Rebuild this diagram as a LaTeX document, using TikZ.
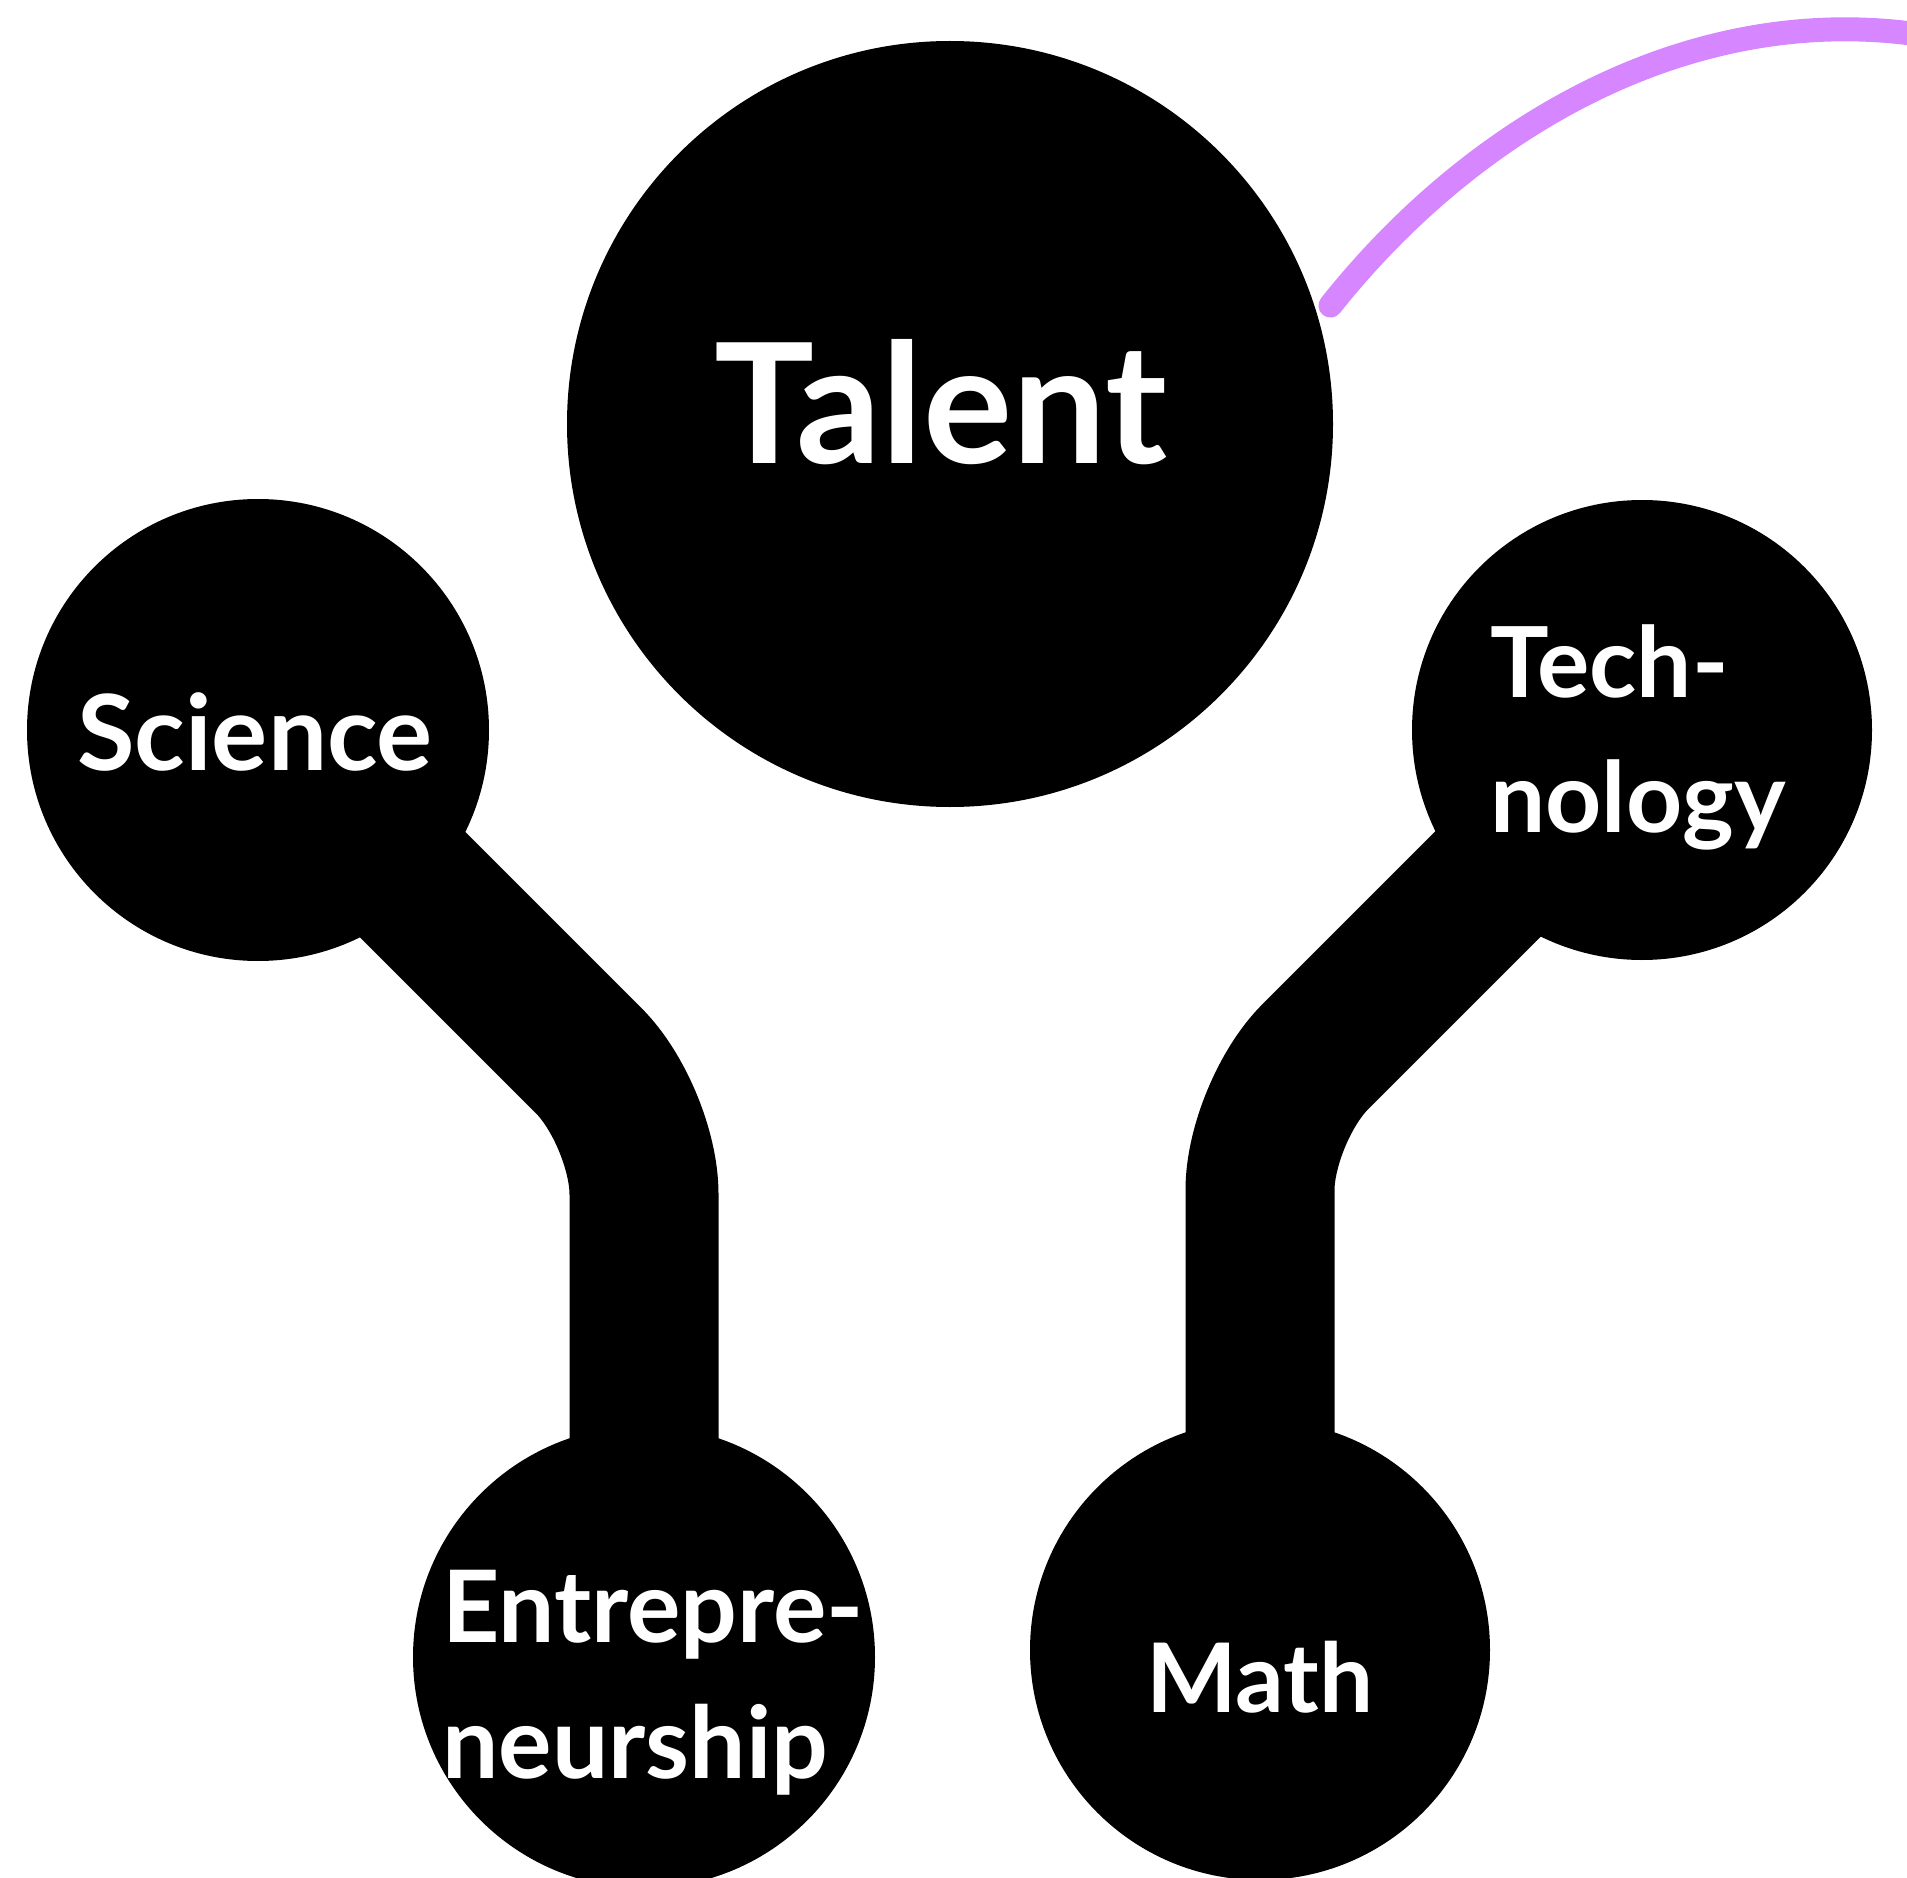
\documentclass[tikz,border=0pt]{standalone}
\usepackage{fontspec}
\setmainfont{Lato}
\definecolor{lilac}{RGB}{214,135,255}
\begin{document}
\begin{tikzpicture}[x=1pt,y=-1pt,
  bubble/.style={circle, fill=black, draw=none, inner sep=0pt, minimum size=#1},
  stem/.style={line width=149pt, black, rounded corners=78pt},
  lbl/.style={text=white, font=\bfseries\fontsize{#1}{#1}\selectfont, inner sep=0pt},
  swoosh/.style={line width=24pt, lilac, line cap=round}]
\useasboundingbox (0,0) rectangle (1907,1878);

% bubbles
\node[bubble=766pt] (talent) at (950,424) {};
\node[bubble=462pt] (science) at (258,730) {};
\node[bubble=460pt] (tech) at (1642,730) {};
\node[bubble=462pt] (entre) at (644,1657) {};
\node[bubble=460pt] (math) at (1260,1650) {};

% bends of the two stems
\coordinate (bendL) at (644,1116);
\coordinate (bendR) at (1260,1112);

% stems joining the bubbles
\draw[stem] (science.center) -- (bendL) -- (entre.center);
\draw[stem] (tech.center) -- (bendR) -- (math.center);

% lilac stroke leaving the top bubble
\coordinate (swooshend) at (1907,33);
\draw[swoosh] ([xshift=16pt]talent.18) .. controls (1470,130) and (1681,6) .. (swooshend);

% labels
\node[lbl=167pt, anchor=base] (tTalent) at (941,463) {Talent};
\node[lbl=105pt, anchor=base] (tScience) at (255,770) {Science};
\node[lbl=98pt, anchor=base west] (tTech1) at (1490,697) {Tech-};
\node[lbl=98pt, anchor=base west] (tTech2) at (1490,832) {nology};
\node[lbl=100pt, anchor=base west] (tEntre1) at (442,1642) {Entrepre-};
\node[lbl=100pt, anchor=base west] (tEntre2) at (442,1778) {neurship};
\node[lbl=96pt, anchor=base] (tMath) at (1260,1712) {Math};
\end{tikzpicture}
\end{document}
